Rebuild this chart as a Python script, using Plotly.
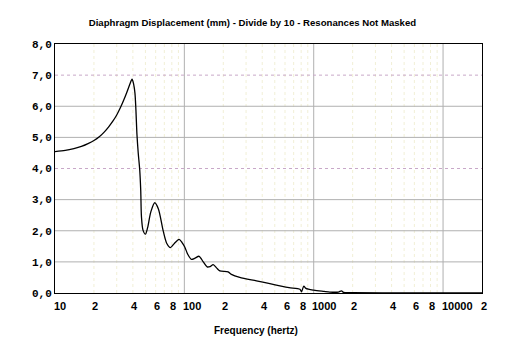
import math
import plotly.graph_objects as go

# Data
freq_hz = [10, 12, 14, 16, 18, 20, 22, 24, 26, 28, 30, 32, 34, 36, 38, 39.4, 40.5, 41.5, 42.2,
           43.0, 44.0, 45.2, 46.0, 46.6, 47.9, 50.0, 52, 55, 59, 63, 68.4, 73, 78.1, 84, 91,
           96, 100.7, 106, 113.5, 121, 130, 140, 150, 158, 167, 178, 188, 218, 231, 268, 361,
           458, 560, 645, 783, 805, 838, 870, 1000, 1200, 1333, 1550, 1640, 1700, 2000,
           5000, 20000]
displacement = [4.54, 4.58, 4.64, 4.71, 4.80, 4.90, 5.02, 5.17, 5.34, 5.52, 5.72, 5.95, 6.20,
                6.46, 6.72, 6.87, 6.72, 6.42, 5.90, 5.10, 4.50, 3.95, 3.30, 2.45, 2.02, 1.89,
                2.10, 2.60, 2.90, 2.70, 2.02, 1.60, 1.46, 1.60, 1.72, 1.62, 1.48, 1.25, 1.08,
                1.12, 1.18, 1.00, 0.84, 0.85, 0.91, 0.80, 0.71, 0.68, 0.60, 0.50, 0.39, 0.30,
                0.22, 0.17, 0.12, 0.04, 0.22, 0.15, 0.09, 0.05, 0.03, 0.03, 0.07, 0.02, 0.01,
                0.0, 0.0]

x_tick_vals = [10, 20, 40, 60, 80, 100, 200, 400, 600, 800, 1000, 2000, 4000, 6000, 8000, 10000, 20000]
x_tick_labels = ["10", "2", "4", "6", "8", "100", "2", "4", "6", "8", "1000", "2", "4", "6", "8", "10000", "2"]
y_tick_vals = [0, 1, 2, 3, 4, 5, 6, 7, 8]
y_tick_text = ["0,0", "1,0", "2,0", "3,0", "4,0", "5,0", "6,0", "7,0", "8,0"]
major_x = [100, 1000, 10000]
minor_x = [m * d for d in (10, 100, 1000) for m in range(2, 10)]
solid_y = [1, 2, 3, 5, 6]
dotted_y = [4, 7]

fig = go.Figure()
fig.add_trace(go.Scatter(x=freq_hz, y=displacement, mode="lines",
                         line=dict(color="#000000", width=1.3, shape="spline", smoothing=0.8),
                         hoverinfo="skip", showlegend=False))

shapes = []
for xv in minor_x:
    shapes.append(dict(type="line", xref="x", yref="paper", x0=xv, x1=xv, y0=0, y1=1,
                       line=dict(color="#f1efd6", width=1, dash="dot"), layer="below"))
for xv in major_x:
    shapes.append(dict(type="line", xref="x", yref="paper", x0=xv, x1=xv, y0=0, y1=1,
                       line=dict(color="#b0b0b0", width=1), layer="below"))
for yv in solid_y:
    shapes.append(dict(type="line", xref="paper", yref="y", x0=0, x1=1, y0=yv, y1=yv,
                       line=dict(color="#b0b0b0", width=1), layer="below"))
for yv in dotted_y:
    shapes.append(dict(type="line", xref="paper", yref="y", x0=0, x1=1, y0=yv, y1=yv,
                       line=dict(color="#c8a8c8", width=1, dash="dot"), layer="below"))

# x tick labels: first digit sits on its tick (annotation x on a log axis is log10)
annotations = []
for xv, t in zip(x_tick_vals, x_tick_labels):
    annotations.append(dict(text=t, x=math.log10(xv), xref="x", y=0, yref="paper", showarrow=False,
                            xanchor="left", yanchor="top", xshift=-3.5, yshift=-5,
                            font=dict(family="Liberation Sans", size=11, color="black", weight="bold")))
annotations.append(dict(text="Frequency (hertz)", xref="paper", yref="paper",
                        x=(255.5 - 55) / 427, y=(293 - 330) / 249,
                        xanchor="center", yanchor="middle", showarrow=False,
                        font=dict(family="Liberation Sans", size=10, color="black", weight="bold")))

fig.update_layout(
    width=511, height=352,
    margin=dict(l=55, r=29, t=44, b=59),
    paper_bgcolor="white", plot_bgcolor="white",
    shapes=shapes,
    annotations=annotations,
    title=dict(text="Diaphragm Displacement (mm) - Divide by 10 - Resonances Not Masked",
               x=0.494, xref="container", xanchor="center",
               y=1 - 23 / 352, yref="container", yanchor="middle",
               font=dict(family="Liberation Sans", size=9.6, color="black", weight="bold")),
    xaxis=dict(type="log", range=[1, 4.30103], showticklabels=False,
               showgrid=False, zeroline=False, showline=True, linecolor="black", linewidth=1,
               mirror=True, ticks=""),
    yaxis=dict(range=[0, 8], tickvals=y_tick_vals, ticktext=y_tick_text,
               showgrid=False, zeroline=False, showline=True, linecolor="black", linewidth=1,
               mirror=True, ticks="",
               tickfont=dict(family="Liberation Mono", size=11, color="black", weight="bold")),
)

fig.write_html("out.html")
